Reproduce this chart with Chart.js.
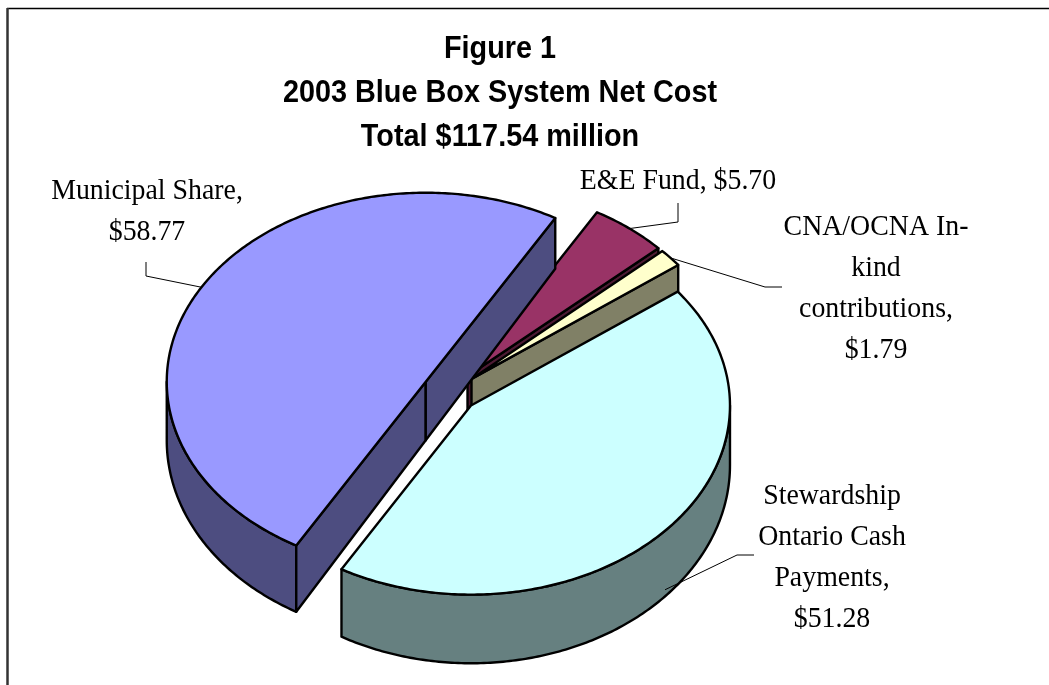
<!DOCTYPE html>
<html>
<head>
<meta charset="utf-8">
<title>2003 Blue Box System Net Cost</title>
<script src="https://cdn.jsdelivr.net/npm/chart.js@4/dist/chart.umd.min.js"></script>
<style>
  html, body { margin: 0; padding: 0; background: #ffffff; }
  canvas { display: block; }
</style>
</head>
<body>
<canvas id="chart" width="1049" height="685"></canvas>
<script>
// ---- data ----
const categories = ['Municipal Share', 'E&E Fund', 'CNA/OCNA In-kind contributions', 'Stewardship Ontario Cash Payments'];
const netCost = [58.77, 5.70, 1.79, 51.28];            // $ millions
const titleLines = ['Figure 1', '2003 Blue Box System Net Cost', 'Total $117.54 million'];

// ---- styles ----
const topColors  = ['#9999FF', '#993366', '#FFFFCC', '#CCFFFF'];
const sideColors = ['#4D4D80', '#4D1A33', '#808066', '#668080'];

// callout layout per slice: centre x of the text block, first baseline,
// wrap width, and the elbow points of the leader line (text side first)
const calloutLayout = [
  { cx: 147, y: 199, wrap: 205, leader: [[146, 262], [146, 276]] },
  { cx: 678, y: 189, wrap: 300, leader: [[678, 203], [678, 222]] },
  { cx: 876, y: 235, wrap: 195, leader: [[782, 287], [765, 287]] },
  { cx: 832, y: 504, wrap: 180, leader: [[754, 555], [737, 555]] }
];

function wrapWords(ctx, text, maxW, sx) {
  // break after spaces and after hyphens
  const tokens = text.match(/[^\s-]+-?|\s+/g) || [];
  const lines = [];
  let line = '';
  for (const t of tokens) {
    const trial = line + t;
    if (line.trim() && ctx.measureText(trial.trim()).width * sx > maxW && t.trim()) {
      lines.push(line.trim());
      line = t;
    } else {
      line = trial;
    }
  }
  if (line.trim()) lines.push(line.trim());
  return lines;
}

function scaledText(ctx, text, x, y, sx) {
  ctx.save();
  ctx.translate(x, y);
  ctx.scale(sx, 1);
  ctx.fillText(text, 0, 0);
  ctx.restore();
}

// extruded, tilted pie built on the arc geometry computed by Chart.js
const pie3d = {
  id: 'pie3d',
  beforeDraw(chart, args, o) {
    const ctx = chart.ctx;
    ctx.save();
    ctx.fillStyle = '#ffffff';
    ctx.fillRect(0, 0, chart.width, chart.height);
    // chart frame
    ctx.strokeStyle = '#000000';
    ctx.lineWidth = 1.5;
    ctx.beginPath();
    ctx.moveTo(7, 8.5); ctx.lineTo(chart.width, 8.5);
    ctx.stroke();
    ctx.strokeStyle = '#333333';
    ctx.lineWidth = 2.5;
    ctx.beginPath();
    ctx.moveTo(7.5, 8); ctx.lineTo(7.5, chart.height);
    ctx.stroke();
    // title
    ctx.fillStyle = '#000000';
    ctx.font = o.titleFont;
    ctx.textAlign = 'center';
    ctx.textBaseline = 'alphabetic';
    titleLines.forEach((t, i) => scaledText(ctx, t, o.titleX, o.titleY + i * o.titleLine, o.titleScaleX));
    ctx.restore();
  },
  beforeDatasetsDraw(chart, args, o) {
    const ctx = chart.ctx;
    const meta = chart.getDatasetMeta(0);
    const items = meta.data.map((arc, i) => {
      const p = arc.getProps(['x', 'y', 'startAngle', 'endAngle', 'outerRadius'], true);
      const mid = (p.startAngle + p.endAngle) / 2;
      return { i, p, mid,
        vx: p.x + Math.cos(mid) * o.explode,
        vy: p.y + Math.sin(mid) * o.explode };
    });
    const proj = (it, ang, down) => {
      const R = it.p.outerRadius;
      const xu = it.vx + (ang === null ? 0 : R * Math.cos(ang));
      const yu = it.vy + (ang === null ? 0 : R * Math.sin(ang));
      let y = it.p.y + o.tilt * (yu - it.p.y);
      if (down) y += o.depth + o.depthSlope * (yu - it.p.y) / R;
      return [xu, y];
    };
    const rimPts = (it, a0, a1, down) => {
      const n = Math.max(2, Math.ceil(Math.abs(a1 - a0) * 80));
      const pts = [];
      for (let k = 0; k <= n; k++) pts.push(proj(it, a0 + (a1 - a0) * k / n, down));
      return pts;
    };
    const face = (pts, fill) => {
      ctx.beginPath();
      pts.forEach((q, k) => k ? ctx.lineTo(q[0], q[1]) : ctx.moveTo(q[0], q[1]));
      ctx.closePath();
      ctx.fillStyle = fill;
      ctx.fill();
      ctx.stroke();
    };
    ctx.save();
    ctx.strokeStyle = o.edgeColor;
    ctx.lineWidth = o.edgeWidth;
    ctx.lineJoin = 'round';
    // back slices first
    items.slice().sort((a, b) => Math.sin(a.mid) - Math.sin(b.mid)).forEach(it => {
      const s = it.p.startAngle, e = it.p.endAngle;
      const side = sideColors[it.i], top = topColors[it.i];
      // outer wall, only where it faces the viewer
      const TAU = Math.PI * 2;
      for (let n = Math.floor(s / TAU) - 1; n <= Math.floor(e / TAU) + 1; n++) {
        const lo = Math.max(s, n * TAU), hi = Math.min(e, n * TAU + Math.PI);
        if (hi > lo) face(rimPts(it, lo, hi, false).concat(rimPts(it, hi, lo, true)), side);
      }
      // radial walls
      const wall = a => face([proj(it, null, false), proj(it, a, false), proj(it, a, true), proj(it, null, true)], side);
      if (Math.cos(s) < 0) wall(s);
      if (Math.cos(e) > 0) wall(e);
      // top face
      face([proj(it, null, false)].concat(rimPts(it, s, e, false)), top);
    });
    ctx.restore();
    chart.$pie3dItems = { items, proj };
    return false;
  },
  afterDraw(chart, args, o) {
    const ctx = chart.ctx;
    const info = chart.$pie3dItems;
    if (!info) return;
    ctx.save();
    ctx.font = o.labelFont;
    ctx.fillStyle = '#000000';
    ctx.strokeStyle = '#000000';
    ctx.lineWidth = 1;
    ctx.textAlign = 'center';
    ctx.textBaseline = 'alphabetic';
    info.items.forEach(it => {
      const lay = calloutLayout[it.i];
      const text = categories[it.i] + ', $' + netCost[it.i].toFixed(2);
      const lines = wrapWords(ctx, text, lay.wrap, o.labelScaleX);
      lines.forEach((l, k) => scaledText(ctx, l, lay.cx, lay.y + k * o.labelLine, o.labelScaleX));
      // leader line ends on the slice rim at its mid angle
      const rim = info.proj(it, it.mid, false);
      if (Math.sin(it.mid) > 0) rim[1] += o.depth;
      ctx.beginPath();
      lay.leader.forEach((q, k) => k ? ctx.lineTo(q[0], q[1]) : ctx.moveTo(q[0], q[1]));
      ctx.lineTo(rim[0], rim[1]);
      ctx.stroke();
    });
    ctx.restore();
  }
};

new Chart(document.getElementById('chart'), {
  type: 'pie',
  data: {
    labels: categories,
    datasets: [{ data: netCost, backgroundColor: topColors, borderWidth: 0 }]
  },
  options: {
    responsive: false,
    animation: false,
    rotation: 210,
    layout: { padding: { left: 191, right: 340, top: 133, bottom: 34 } },
    plugins: {
      legend: { display: false },
      tooltip: { enabled: false },
      title: { display: false },
      pie3d: {
        tilt: 0.73,
        explode: 28,
        depth: 59,
        depthSlope: 9,
        edgeColor: '#000000',
        edgeWidth: 2.4,
        titleFont: 'bold 31px "Liberation Sans", Arial, sans-serif',
        titleX: 500, titleY: 58, titleLine: 44, titleScaleX: 0.93,
        labelFont: '29px "Liberation Serif", "Times New Roman", serif',
        labelScaleX: 0.96,
        labelLine: 41
      }
    }
  },
  plugins: [pie3d]
});
</script>
</body>
</html>
